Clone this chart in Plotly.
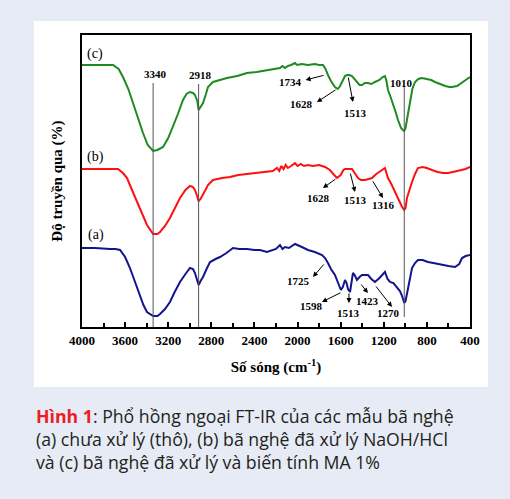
import plotly.graph_objects as go

# ---------------- data ----------------
# wavenumber (cm-1) and relative transmittance (arbitrary offset units)
wn_c = [4000, 3712, 3660, 3620, 3570, 3527, 3480, 3434, 3390, 3340, 3300, 3248, 3200, 3156, 3110, 3063, 3030, 3000, 2970, 2952, 2930, 2918, 2900,
        2877, 2850, 2831, 2785, 2720, 2655, 2560, 2470, 2380, 2284, 2200, 2163, 2140, 2117, 2090, 2060, 2024, 2005, 1960, 1903, 1840, 1800, 1764,
        1740, 1718, 1690, 1653, 1628, 1610, 1588, 1560, 1541, 1520, 1495, 1470, 1449, 1425, 1402, 1375, 1347, 1315, 1282, 1240, 1210, 1189,
        1175, 1161, 1140, 1115, 1090, 1068, 1040, 1022, 1010, 998, 985, 970, 957, 935, 910, 880, 846, 800, 760, 725, 680, 630, 590, 567, 520,
        474, 440, 400]
t_c = [262, 262, 258, 250, 238, 224, 209, 194, 182, 176, 177, 180, 189, 200, 213, 227, 233, 235, 234, 232, 226, 217, 220,
       224, 233, 240, 245, 247, 249, 251, 254, 255, 257, 258, 259, 261, 259, 261, 262, 264, 262, 263, 262, 263, 262, 262,
       258, 252, 246, 240, 238, 240, 245, 251, 252, 252, 251, 248, 245, 242, 242, 244, 244, 243, 245, 247, 250, 251,
       246, 237, 231, 224, 215, 207, 199, 197, 196, 199, 207, 216, 227, 238, 245, 248, 249, 248, 247, 245, 243, 241, 240, 240, 241,
       244, 247, 250]

wn_b = [4000, 3800, 3666, 3620, 3582, 3540, 3490, 3440, 3397, 3340, 3300, 3276, 3230, 3184, 3140, 3091, 3040, 2998, 2970, 2952, 2935, 2918, 2900,
        2877, 2850, 2831, 2785, 2700, 2627, 2550, 2469, 2380, 2284, 2230, 2191, 2170, 2150, 2130, 2110, 2090, 2060, 2024, 2000, 1970, 1940, 1903,
        1860, 1800, 1745, 1700, 1660, 1634, 1600, 1575, 1560, 1530, 1495, 1470, 1439, 1410, 1374, 1340, 1309, 1270, 1230, 1189, 1175, 1161,
        1130, 1096, 1060, 1030, 1010, 998, 985, 960, 938, 910, 883, 840, 800, 753, 700, 650, 604, 560, 520, 474, 440, 400]
t_b = [158, 158, 158, 154, 149, 138, 125, 112, 102, 93, 93, 95, 101, 109, 118, 129, 137, 141, 140, 137, 132, 126, 128,
       132, 138, 142, 147, 149, 150, 152, 153, 154, 155, 156, 159, 156, 161, 158, 162, 159, 161, 164, 161, 163, 161, 162,
       161, 162, 160, 157, 152, 149, 152, 157, 158, 158, 158, 154, 149, 147, 147, 148, 149, 153, 156, 159, 154, 149,
       143, 135, 128, 120, 117, 119, 129, 138, 145, 153, 159, 160, 159, 157, 155, 154, 154, 155, 156, 157, 158, 160]

wn_a = [4000, 3880, 3740, 3690, 3647, 3600, 3555, 3510, 3462, 3430, 3397, 3340, 3300, 3276, 3230, 3184, 3140, 3091, 3040, 2998, 2970, 2952, 2935,
        2918, 2900, 2877, 2840, 2812, 2760, 2720, 2660, 2599, 2540, 2469, 2400, 2349, 2284, 2200, 2163, 2140, 2117, 2080, 2024, 1990, 1960, 1903,
        1840, 1773, 1745, 1718, 1690, 1653, 1625, 1598, 1580, 1560, 1545, 1532, 1513, 1500, 1486, 1470, 1449, 1425, 1402, 1375, 1347, 1315,
        1282, 1240, 1210, 1189, 1165, 1142, 1110, 1077, 1050, 1030, 1010, 998, 985, 975, 960, 938, 910, 883, 840, 790, 740, 700, 660, 600,
        539, 500, 474, 440, 400]
t_a = [79, 79, 78, 78, 77, 70, 59, 46, 32, 22, 15, 11, 11, 13, 18, 25, 35, 45, 53, 59, 58, 54, 48,
       42, 46, 50, 59, 65, 68, 70, 74, 79, 78, 78, 77, 77, 75, 78, 82, 78, 80, 79, 83, 81, 80, 77,
       75, 72, 69, 64, 58, 52, 44, 37, 40, 47, 44, 38, 35, 46, 54, 52, 47, 50, 52, 52, 52, 48,
       45, 49, 53, 55, 48, 45, 44, 40, 36, 31, 24, 26, 33, 39, 47, 59, 64, 67, 67, 65, 64, 63, 62, 61,
       60, 63, 69, 71, 72]

tick_vals = [4000, 3600, 3200, 2800, 2400, 2000, 1600, 1200, 800, 400]

# reference (vertical) peak lines: wavenumber, top of line
vline_wn = [3340, 2918, 1010]
vline_top = [244, 243, 241]
vline_bottom = [0, 0, 10]

# peak labels: text, x, y
peak_text = ["3340", "2918", "1010", "1734", "1628", "1513", "1628", "1513", "1316",
             "1725", "1598", "1513", "1423", "1270"]
peak_x = [3318, 2905, 1040, 2061, 1959, 1458, 1810, 1467, 1207, 1987, 1875, 1523, 1347, 1152]
peak_y = [253, 252, 244, 245, 223, 214, 129, 127, 122, 46, 21, 14, 26, 14]

# arrows: tail (on curve) -> head (near label)
arrow_tail_x = [1745, 1634, 1532, 1634, 1513, 1309, 1745, 1588, 1523, 1421, 1282]
arrow_tail_y = [252, 238, 251, 149, 155, 147, 64, 35, 35, 44, 42]
arrow_head_x = [1925, 1820, 1486, 1764, 1467, 1207, 1857, 1773, 1523, 1347, 1124]
arrow_head_y = [247, 225, 225, 139, 135, 129, 50, 25, 24, 34, 20]

series_labels = ["(c)", "(b)", "(a)"]
series_label_x = [3879, 3879, 3870]
series_label_y = [273, 170, 92]

caption = ('<span style="color:#ee1c25"><b>Hình 1</b></span>: Phổ hồng ngoại FT-IR của các mẫu bã nghệ<br>'
           "(a) chưa xử lý (thô), (b) bã nghệ đã xử lý NaOH/HCl<br>"
           "và (c) bã nghệ đã xử lý và biến tính MA 1%")

# ---------------- figure ----------------
fig = go.Figure()
fig.add_trace(go.Scatter(x=wn_c, y=t_c, mode="lines", line=dict(color="#1f8a1f", width=2), showlegend=False))
fig.add_trace(go.Scatter(x=wn_b, y=t_b, mode="lines", line=dict(color="#ff1010", width=2), showlegend=False))
fig.add_trace(go.Scatter(x=wn_a, y=t_a, mode="lines", line=dict(color="#14148c", width=2), showlegend=False))

shapes = []
# white panel behind the chart
shapes.append(dict(type="rect", xref="paper", yref="paper", x0=-0.1237, x1=1.0464, y0=-0.2055, y1=1.048,
                   fillcolor="white", line=dict(width=0), layer="below"))
for w, t0, t1 in zip(vline_wn, vline_bottom, vline_top):
    shapes.append(dict(type="line", xref="x", yref="y", x0=w, x1=w, y0=t0, y1=t1,
                       line=dict(color="#555555", width=1)))

ann = []
serif = "Liberation Serif"
for t, x, y in zip(peak_text, peak_x, peak_y):
    ann.append(dict(x=x, y=y, xref="x", yref="y", text="<b>%s</b>" % t, showarrow=False,
                    font=dict(family=serif, size=11, color="black")))
for tx, ty, hx, hy in zip(arrow_tail_x, arrow_tail_y, arrow_head_x, arrow_head_y):
    ann.append(dict(x=hx, y=hy, ax=tx, ay=ty, xref="x", yref="y", axref="x", ayref="y", text="",
                    showarrow=True, arrowhead=2, arrowsize=1, arrowwidth=1, arrowcolor="black"))
for t, x, y in zip(series_labels, series_label_x, series_label_y):
    ann.append(dict(x=x, y=y, xref="x", yref="y", text=t, showarrow=False,
                    font=dict(family=serif, size=14, color="black")))

ann.append(dict(x=-0.1237, y=-0.385, xref="paper", yref="paper", xanchor="left", yanchor="middle", align="left",
                text=caption, showarrow=False, font=dict(family="Open Sans", size=17.7, color="#231f20")))

fig.update_layout(
    width=510, height=499, autosize=False,
    margin=dict(l=82, r=40, t=35, b=172),
    paper_bgcolor="#e6ebf5", plot_bgcolor="white",
    shapes=shapes, annotations=ann,
    xaxis=dict(range=[4000, 400], tickvals=tick_vals, ticks="inside", ticklen=5, tickwidth=1.5,
               tickcolor="black", showline=True, linecolor="black", linewidth=2, mirror=True,
               showgrid=False, zeroline=False,
               minor=dict(ticks="inside", dtick=200, ticklen=4, tickcolor="black", tickwidth=1.5, showgrid=False),
               tickfont=dict(family=serif, size=13, color="black", weight="bold"),
               title=dict(text="Số sóng (cm<sup>-1</sup>)", font=dict(family=serif, size=15, color="black", weight="bold"),
                          standoff=15)),
    yaxis=dict(range=[0, 292], showticklabels=False, ticks="", showline=True, linecolor="black", linewidth=2,
               mirror=True, showgrid=False, zeroline=False,
               title=dict(text="Độ truyền qua (%)", font=dict(family=serif, size=15, color="black", weight="bold"),
                          standoff=14)),
)

fig.write_html("out.html")
